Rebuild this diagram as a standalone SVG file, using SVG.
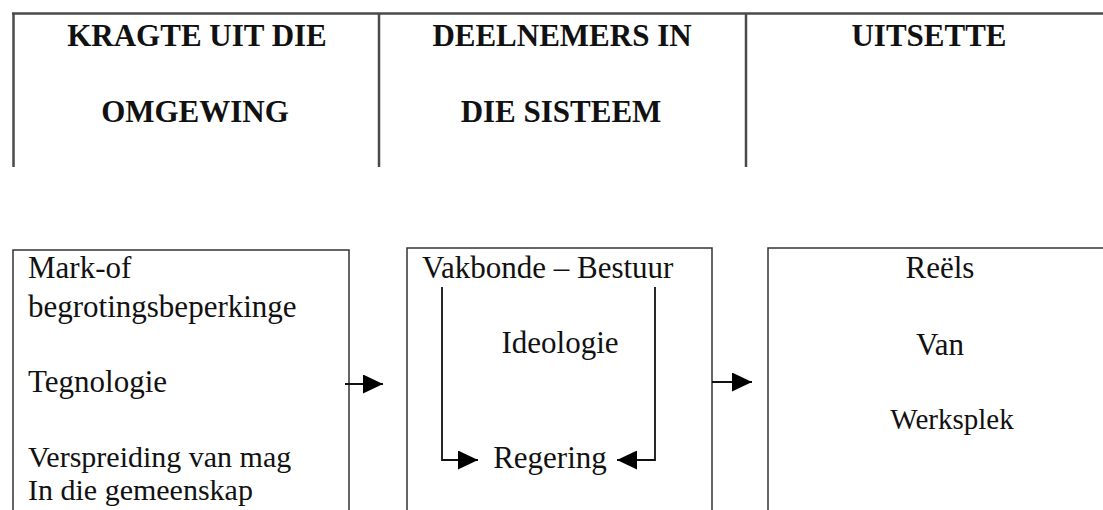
<svg xmlns="http://www.w3.org/2000/svg" width="1103" height="510" viewBox="0 0 1103 510">
<style>
.hdr{font-family:"Liberation Serif","Times New Roman",serif;font-weight:bold;font-size:31px;fill:#111;text-anchor:middle}
.txt{font-family:"Liberation Serif","Times New Roman",serif;font-size:31px;fill:#111}
.mid{text-anchor:middle}
.grid{stroke:#4a4a4a;stroke-width:2.5;fill:none}
.box{stroke:#333;stroke-width:1.5;fill:none}
.conn{stroke:#111;stroke-width:1.8;fill:none}
</style>
<defs>
<marker id="arr" viewBox="0 0 20 19" refX="20" refY="9.5" markerWidth="20" markerHeight="19" markerUnits="userSpaceOnUse" orient="auto">
<path d="M0,0 L20,9.5 L0,19 z" fill="#000"/>
</marker>
</defs>
<rect width="1103" height="510" fill="#fff"/>
<g id="header-grid">
<line class="grid" x1="12" y1="13.5" x2="1103" y2="13.5"/>
<line class="grid" x1="13.5" y1="13" x2="13.5" y2="167"/>
<line class="grid" x1="379" y1="13" x2="379" y2="167"/>
<line class="grid" x1="746" y1="13" x2="746" y2="167"/>
</g>
<g id="hdr-kragte">
<text class="hdr" x="197" y="46">KRAGTE UIT DIE</text>
<text class="hdr" x="195" y="122">OMGEWING</text>
</g>
<g id="hdr-deelnemers">
<text class="hdr" x="562" y="46">DEELNEMERS IN</text>
<text class="hdr" x="561" y="122">DIE SISTEEM</text>
</g>
<g id="hdr-uitsette">
<text class="hdr" x="929" y="46">UITSETTE</text>
</g>
<g id="box-kragte">
<path class="box" d="M13,512 V250 H349 V512"/>
<text class="txt" x="28" y="278">Mark-of</text>
<text class="txt" x="28" y="317">begrotingsbeperkinge</text>
<text class="txt" x="28" y="392">Tegnologie</text>
<text class="txt" x="28" y="467" style="font-size:30px">Verspreiding van mag</text>
<text class="txt" x="28" y="500" style="font-size:30px">In die gemeenskap</text>
</g>
<g id="box-deelnemers">
<path class="box" d="M407,512 V248 H712 V512"/>
<text class="txt" x="422" y="278">Vakbonde – Bestuur</text>
<text class="txt mid" x="560" y="353">Ideologie</text>
<text class="txt mid" x="550" y="468">Regering</text>
</g>
<g id="box-uitsette">
<path class="box" d="M768,512 V248 H1105"/>
<text class="txt mid" x="940" y="278">Reëls</text>
<text class="txt mid" x="940" y="355">Van</text>
<text class="txt mid" x="952" y="429" style="font-size:29px">Werksplek</text>
</g>
<g id="connectors">
<path class="conn" d="M345,384 H383" marker-end="url(#arr)"/>
<path class="conn" d="M712,382 H752" marker-end="url(#arr)"/>
<path class="conn" d="M442,287 V460 H478" marker-end="url(#arr)"/>
<path class="conn" d="M655,287 V460 H617" marker-end="url(#arr)"/>
</g>
</svg>
